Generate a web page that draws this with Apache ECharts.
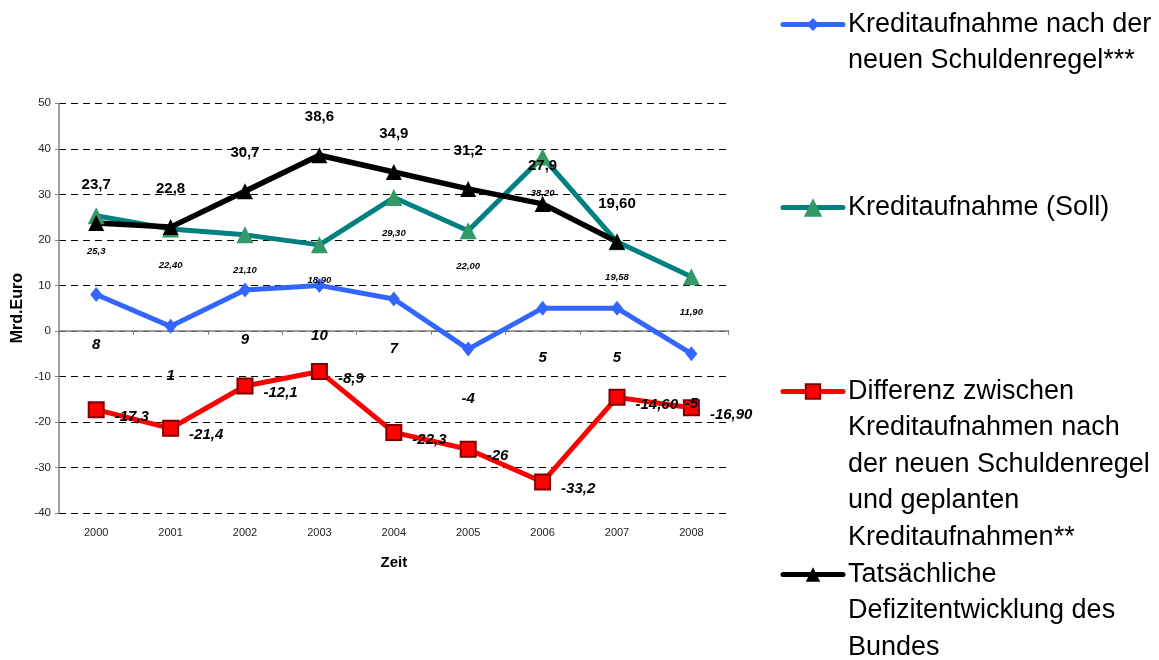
<!DOCTYPE html>
<html>
<head>
<meta charset="utf-8">
<script src="https://cdn.jsdelivr.net/npm/echarts@6/dist/echarts.min.js"></script>
<style>
html,body{margin:0;padding:0;background:#fff;}
#chart{width:1159px;height:660px;}
</style>
</head>
<body>
<div id="chart"></div>
<script>
// ---- data ----
const years = ['2000','2001','2002','2003','2004','2005','2006','2007','2008'];
const neueRegel = [8, 1, 9, 10, 7, -4, 5, 5, -5];
const neueRegelLabels = ['8','1','9','10','7','-4','5','5','-5'];
const soll = [25.3, 22.4, 21.1, 18.9, 29.3, 22.0, 38.2, 19.58, 11.9];
const sollLabels = ['25,3','22,40','21,10','18,90','29,30','22,00','38,20','19,58','11,90'];
const differenz = [-17.3, -21.4, -12.1, -8.9, -22.3, -26, -33.2, -14.6, -16.9];
const differenzLabels = ['-17,3','-21,4','-12,1','-8,9','-22,3','-26','-33,2','-14,60','-16,90'];
const defizit = [23.7, 22.8, 30.7, 38.6, 34.9, 31.2, 27.9, 19.6, null];
const defizitLabels = ['23,7','22,8','30,7','38,6','34,9','31,2','27,9','19,60'];

const seriesNames = [
  'Kreditaufnahme nach der neuen Schuldenregel***',
  'Kreditaufnahme (Soll)',
  'Differenz zwischen Kreditaufnahmen nach der neuen Schuldenregel und geplanten Kreditaufnahmen**',
  'Tatsächliche Defizitentwicklung des Bundes'
];
const legendLines = [
  ['Kreditaufnahme nach der', 'neuen Schuldenregel***'],
  ['Kreditaufnahme (Soll)'],
  ['Differenz zwischen', 'Kreditaufnahmen nach', 'der neuen Schuldenregel', 'und geplanten', 'Kreditaufnahmen**'],
  ['Tatsächliche', 'Defizitentwicklung des', 'Bundes']
];
const yTicks = {min: -40, max: 50, interval: 10};

// ---- chart ----
const FONT = 'Liberation Sans, Arial, sans-serif';
const LH = 36.5;
const legendIconCenters = [22, 205, 389, 572];
const legendItemHeights = [16, 23, 18, 18];
const legendColors = ['#3366FF', '#008080', '#FF0000', '#000'];

function makeLegend(i) {
  const n = legendLines[i].length;
  return {
    show: true,
    selectedMode: false,
    orient: 'vertical',
    left: 780.5,
    top: legendIconCenters[i] + 2.5 - (2 * n - 1) * LH / 2,
    padding: 0,
    itemWidth: 60,
    itemHeight: legendItemHeights[i],
    data: [seriesNames[i]],
    lineStyle: {width: 5, color: legendColors[i], cap: 'round'},
    formatter: function () {
      return '\n'.repeat(n - 1) + legendLines[i].join('\n');
    },
    textStyle: {fontFamily: FONT, fontSize: 27, lineHeight: LH, color: '#000'}
  };
}

const chart = echarts.init(document.getElementById('chart'), null, {renderer: 'canvas'});
chart.setOption({
  backgroundColor: '#fff',
  animation: false,
  textStyle: {fontFamily: FONT},
  legend: [0, 1, 2, 3].map(makeLegend),
  grid: {left: 59, right: 430.4, top: 103.3, bottom: 147, containLabel: false, outerBoundsMode: 'none'},
  xAxis: [
    {
      type: 'category', data: years, position: 'bottom',
      axisLine: {show: false, onZero: false},
      axisTick: {show: false},
      axisLabel: {fontSize: 11, color: '#222', margin: 14},
      name: 'Zeit', nameLocation: 'middle', nameGap: 42,
      nameTextStyle: {fontSize: 15, fontWeight: 'bold', color: '#000'}
    },
    {
      type: 'category', data: years, position: 'bottom',
      axisLine: {show: true, onZero: true, lineStyle: {color: '#808080', width: 1.5}},
      axisTick: {show: true, length: 4, lineStyle: {color: '#808080'}},
      axisLabel: {show: false},
      splitLine: {show: false}
    }
  ],
  yAxis: {
    type: 'value', min: yTicks.min, max: yTicks.max, interval: yTicks.interval,
    axisLine: {show: true, lineStyle: {color: '#808080', width: 1.5}},
    axisTick: {show: true, length: 4, lineStyle: {color: '#808080'}},
    axisLabel: {fontSize: 11.5, color: '#222', margin: 8},
    splitLine: {show: true, lineStyle: {color: '#000', type: [7, 5], width: 1}},
    name: 'Mrd.Euro', nameLocation: 'middle', nameRotate: 90, nameGap: 33,
    nameMoveOverlap: false,
    nameTextStyle: {fontSize: 16, fontWeight: 'bold', color: '#000'}
  },
  series: [
    {
      name: seriesNames[0], type: 'line', data: neueRegel,
      symbol: 'diamond', symbolSize: [12, 15],
      lineStyle: {color: '#3366FF', width: 5},
      itemStyle: {color: '#3366FF'},
      label: {show: true, position: 'inside', offset: [0, 50],
        fontSize: 15, fontWeight: 'bold', fontStyle: 'italic', color: '#000',
        formatter: p => neueRegelLabels[p.dataIndex]}
    },
    {
      name: seriesNames[1], type: 'line', data: soll,
      symbol: 'triangle', symbolSize: 17,
      lineStyle: {color: '#008080', width: 5},
      itemStyle: {color: '#339966'},
      label: {show: true, position: 'inside', offset: [0, 36],
        fontSize: 9.5, fontWeight: 'bold', fontStyle: 'italic', color: '#000',
        formatter: p => sollLabels[p.dataIndex]}
    },
    {
      name: seriesNames[2], type: 'line', data: differenz,
      symbol: 'rect', symbolSize: 15,
      lineStyle: {color: '#FF0000', width: 5},
      itemStyle: {color: '#FF0000', borderColor: '#800000', borderWidth: 2},
      label: {show: true, position: 'right', distance: 10, offset: [0, 7],
        fontSize: 15, fontWeight: 'bold', fontStyle: 'italic', color: '#000',
        formatter: p => differenzLabels[p.dataIndex]}
    },
    {
      name: seriesNames[3], type: 'line', data: defizit,
      symbol: 'triangle', symbolSize: 16,
      lineStyle: {color: '#000', width: 5.5},
      itemStyle: {color: '#000'},
      label: {show: true, position: 'inside', offset: [0, -38],
        fontSize: 15, fontWeight: 'bold', color: '#000',
        formatter: p => defizitLabels[p.dataIndex]}
    }
  ]
});
</script>
</body>
</html>
